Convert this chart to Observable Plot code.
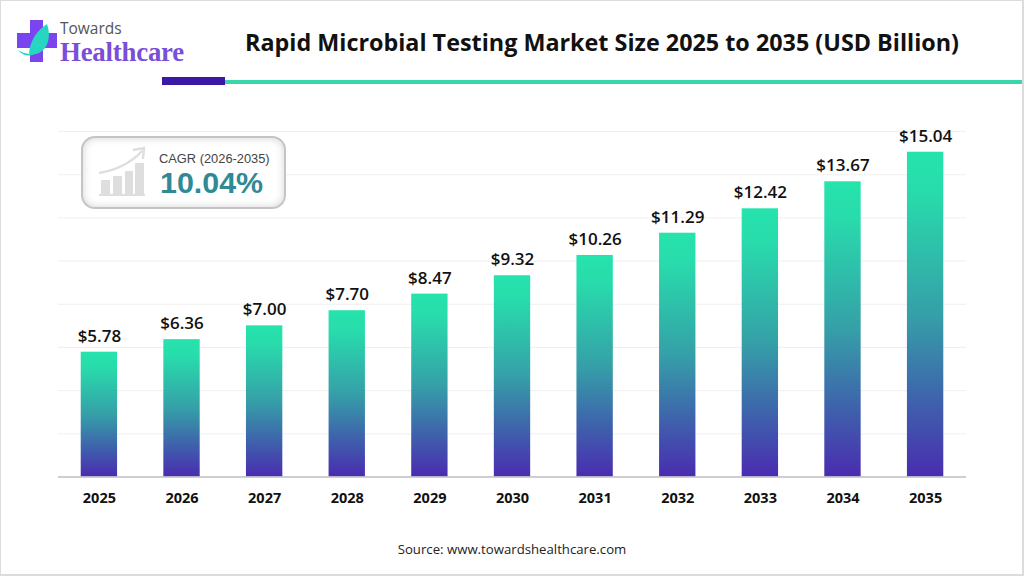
<!DOCTYPE html>
<html>
<head>
<meta charset="utf-8">
<script src="https://cdn.jsdelivr.net/npm/d3@7"></script>
<script src="https://cdn.jsdelivr.net/npm/@observablehq/plot@0.6"></script>
<style>
html,body{margin:0;padding:0;background:#fff;}
#page{position:relative;width:1024px;height:576px;overflow:hidden;font-family:"Open Sans",sans-serif;}
#frame{position:absolute;inset:0;border:1px solid #dcdcdc;border-width:1px 2px 2px 1px;pointer-events:none;}
#title{position:absolute;left:245px;top:24px;margin:0;font-size:23.35px;font-weight:700;color:#111;white-space:nowrap;line-height:36px;}
#bar1{position:absolute;left:162px;top:77px;width:63px;height:8px;background:#3a18a8;}
#bar2{position:absolute;left:225px;top:80px;width:797px;height:4px;background:#3ad6ab;}
#logo{position:absolute;left:16px;top:18px;}
#l1{position:absolute;left:60px;top:19px;font:15.5px/18px "Open Sans",sans-serif;color:#555;}
#l2{position:absolute;left:60px;top:38px;font:bold 26.8px/28px "Liberation Serif",serif;color:#7a4fd8;letter-spacing:-.2px;}
#plotwrap{position:absolute;left:0;top:100px;}
#cagr{position:absolute;left:81px;top:136px;width:201px;height:69px;border:2px solid #c4c4c4;border-radius:14px;background:#fff;box-shadow:inset 0 0 9px #d4d4d4;}
#c1{position:absolute;left:159px;top:151px;font:12.85px "Liberation Sans",sans-serif;color:#444;white-space:nowrap;}
#c2{position:absolute;left:160px;top:165px;font:bold 30.4px "Liberation Sans",sans-serif;color:#2f8a96;white-space:nowrap;}
#icon{position:absolute;left:97px;top:146px;}
#source{position:absolute;left:0;width:1024px;text-align:center;top:540px;font-size:13.2px;color:#222;}
svg text{font-family:"Open Sans",sans-serif;}
</style>
</head>
<body>
<div id="page">
  <svg id="logo" width="42" height="46" viewBox="0 0 42 46">
    <path d="M14 2h13v13h14v15H27v14H14V30H1V15h13z" fill="#7a45f0"/>
    <path d="M31 6c4 11 2 24-8 29-5 2-8 1-10 0 1-12 8-23 18-29z" fill="#26d6c0"/>
    <path d="M2 32c7 5 17 5 23-1-5 7-16 10-23 1z" fill="#26d6c0"/>
  </svg>
  <div id="l1">Towards</div>
  <div id="l2">Healthcare</div>
  <h1 id="title">Rapid Microbial Testing Market Size 2025 to 2035 (USD Billion)</h1>
  <div id="bar1"></div><div id="bar2"></div>
  <div id="plotwrap"></div>
  <div id="cagr"></div>
  <svg id="icon" width="50" height="54" viewBox="0 0 50 54">
    <path d="M2 49h46" stroke="#dedede" stroke-width="2"/>
    <path d="M4 34h9v14H4zM16 30h9v18H16zM28 25h8v23h-8zM38 17h9v31h-9z" fill="#dedede"/>
    <path d="M2 27C20 24 34 17 45 5" fill="none" stroke="#dedede" stroke-width="2.5"/>
    <path d="M36 4l11-2-1 11" fill="none" stroke="#dedede" stroke-width="2.5"/>
  </svg>
  <div id="c1">CAGR (2026-2035)</div>
  <div id="c2">10.04%</div>
  <div id="source">Source: www.towardshealthcare.com</div>
  <div id="frame"></div>
</div>
<script>
const years = [2025,2026,2027,2028,2029,2030,2031,2032,2033,2034,2035];
const values = [5.78,6.36,7.00,7.70,8.47,9.32,10.26,11.29,12.42,13.67,15.04];
const yTicks = [0,2,4,6,8,10,12,14,16];
const rows = years.map((year,i)=>({year,value:values[i]}));

const gradient = () => {
  const ns = "http://www.w3.org/2000/svg";
  const defs = document.createElementNS(ns,"defs");
  const g = document.createElementNS(ns,"linearGradient");
  g.setAttribute("id","barGrad");
  g.setAttribute("x1","0");g.setAttribute("x2","0");g.setAttribute("y1","0");g.setAttribute("y2","1");
  [["0%","#26e3ab"],["12%","#28dcac"],["50%","#35a0a8"],["78%","#3f5fac"],["100%","#4a2cb0"]].forEach(([o,c])=>{
    const s=document.createElementNS(ns,"stop");
    s.setAttribute("offset",o);s.setAttribute("stop-color",c);g.appendChild(s);
  });
  defs.appendChild(g);
  return defs;
};

const chart = Plot.plot({
  width:1024,height:410,
  marginTop:31,marginBottom:33.5,marginLeft:58,marginRight:58,
  style:{background:"transparent",overflow:"visible"},
  x:{type:"band",domain:years,paddingInner:0.56,paddingOuter:0.275,round:false,label:null},
  y:{domain:[0,16],label:null},
  marks:[
    gradient,
    Plot.ruleY(yTicks.filter(d=>d>0),{stroke:"#efefef",strokeWidth:1}),
    Plot.barY(rows,{x:"year",y:"value",fill:"url(#barGrad)"}),
    Plot.ruleY([0],{stroke:"#bdbdc4",strokeWidth:1.5}),
    Plot.text(rows,{x:"year",y:"value",text:d=>d3.format("$.2f")(d.value),dy:-16,fontSize:17,fontWeight:600,fill:"#111"}),
    Plot.axisX({tickSize:0,tickPadding:16,tickFormat:d=>String(d),fontSize:14.5,fontWeight:700,color:"#111",label:null}),
    Plot.axisY({ticks:[],label:null})
  ]
});
document.getElementById("plotwrap").appendChild(chart);
chart.querySelectorAll("g[aria-label='x-axis tick label'] text").forEach(t=>{t.style.fontSize="14.5px";t.style.fontWeight="700";t.style.fill="#111";});
</script>
</body>
</html>
